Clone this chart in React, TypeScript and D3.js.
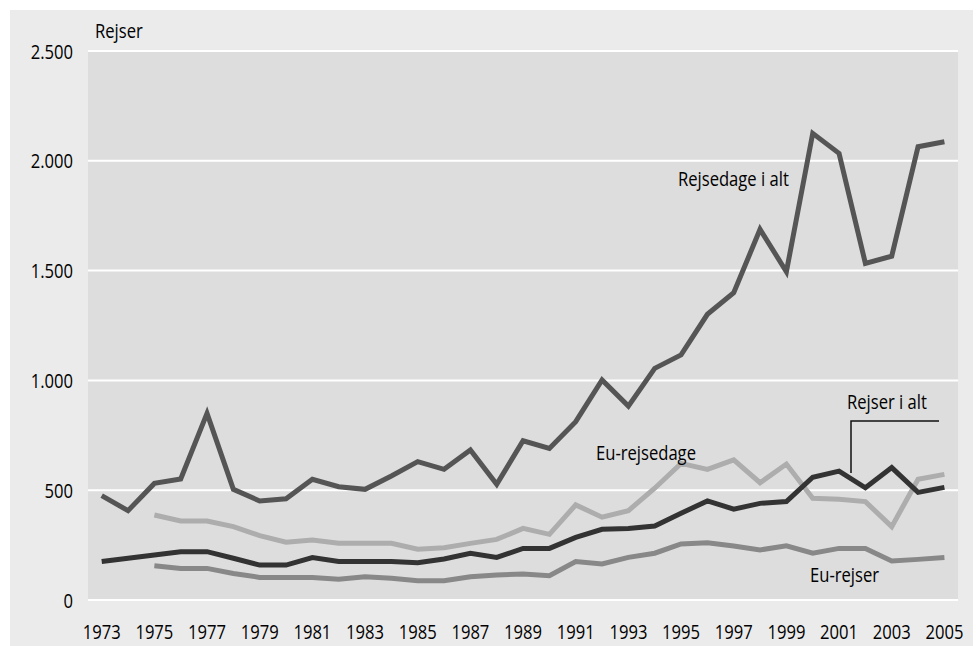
import React, { useEffect, useRef } from "react";
import * as d3 from "d3";

const years: number[] = d3.range(1973, 2006);
const tickYears: number[] = d3.range(1973, 2006, 2);
const yTicks: number[] = [0, 500, 1000, 1500, 2000, 2500];

// 1973..2005
const rejsedageIAlt: number[] = [
  475, 407, 531, 551, 850, 504, 451, 461, 550, 516, 504, 565, 630, 595, 683, 527,
  725, 690, 812, 1002, 883, 1055, 1116, 1301, 1399, 1688, 1495, 2125, 2034, 1533, 1566, 2064, 2087,
];
const rejserIAlt: number[] = [
  175, 190, 205, 220, 220, 190, 159, 159, 193, 175, 175, 175, 170, 187, 213, 194,
  235, 235, 285, 322, 326, 337, 395, 451, 414, 440, 448, 559, 587, 511, 603, 490, 513,
];
// 1975..2005 (null before)
const euRejsedage: (number | null)[] = [
  null, null, 387, 360, 360, 334, 293, 263, 273, 258, 258, 258, 231, 238, 258, 276,
  326, 299, 433, 377, 407, 509, 622, 595, 638, 534, 619, 463, 459, 448, 334, 550, 572,
];
const euRejser: (number | null)[] = [
  null, null, 156, 144, 144, 121, 103, 103, 102, 94, 106, 99, 88, 88, 106, 114,
  118, 111, 175, 164, 194, 213, 255, 261, 246, 228, 247, 213, 235, 235, 178, 185, 194,
];

const FONT = "'Open Sans', 'Noto Sans', sans-serif";
const SX = 0.81;
const FS = 20.5;

export default function App() {
  const ref = useRef<SVGSVGElement | null>(null);

  useEffect(() => {
    const svg = d3.select(ref.current);
    svg.selectAll("*").remove();

    const W = 976, H = 646;
    const plot = { left: 88, right: 958, top: 51, bottom: 600 };

    svg.append("rect").attr("x", 0).attr("y", 0).attr("width", W).attr("height", H).attr("fill", "#ffffff");
    svg.append("rect").attr("x", 10).attr("y", 10).attr("width", 963).attr("height", H - 10).attr("fill", "#ebebeb");
    svg.append("rect")
      .attr("x", plot.left).attr("y", plot.top)
      .attr("width", plot.right - plot.left).attr("height", plot.bottom - plot.top)
      .attr("fill", "#dddddd");

    const x = d3.scaleLinear().domain([1973, 2005]).range([101.7, 944.4]);
    const y = d3.scaleLinear().domain([0, 2500]).range([plot.bottom, plot.top]);

    const label = (
      g: d3.Selection<any, any, any, any>,
      tx: number,
      ty: number,
      text: string,
      anchor: string = "start"
    ) => {
      g.append("g")
        .attr("transform", `translate(${tx},${ty}) scale(${SX},1)`)
        .append("text")
        .attr("x", 0).attr("y", 0)
        .attr("text-anchor", anchor)
        .attr("font-family", FONT).attr("font-size", FS).attr("fill", "#000")
        .text(text);
    };

    // gridlines
    svg.append("g").selectAll("line").data(yTicks).join("line")
      .attr("x1", plot.left).attr("x2", plot.right)
      .attr("y1", (d) => y(d)).attr("y2", (d) => y(d))
      .attr("stroke", "#ffffff").attr("stroke-width", 2);

    const fmt = (d: number) => d3.format(",")(d).replace(/,/g, ".");
    const gy = svg.append("g");
    yTicks.forEach((d) => label(gy, 73, y(d) + 7.5, fmt(d), "end"));

    const gx = svg.append("g");
    tickYears.forEach((d) => label(gx, x(d), 639, String(d), "middle"));

    label(svg, 95, 38, "Rejser");

    const line = d3.line<number | null>()
      .defined((d) => d !== null)
      .x((_, i) => x(years[i]))
      .y((d) => y(d as number));

    const series: { data: (number | null)[]; color: string }[] = [
      { data: euRejser, color: "#888888" },
      { data: euRejsedage, color: "#adadad" },
      { data: rejserIAlt, color: "#333333" },
      { data: rejsedageIAlt, color: "#555555" },
    ];
    series.forEach((s) => {
      svg.append("path")
        .attr("d", line(s.data) as string)
        .attr("fill", "none")
        .attr("stroke", s.color)
        .attr("stroke-width", 5)
        .attr("stroke-linejoin", "miter");
    });

    const ann = [
      { text: "Rejsedage i alt", x: 678, y: 186 },
      { text: "Eu-rejsedage", x: 596, y: 460 },
      { text: "Rejser i alt", x: 847, y: 409 },
      { text: "Eu-rejser", x: 810, y: 582 },
    ];
    const ga = svg.append("g");
    ann.forEach((a) => label(ga, a.x, a.y, a.text));

    svg.append("path")
      .attr("d", "M939,421H851V473")
      .attr("fill", "none").attr("stroke", "#111").attr("stroke-width", 1.5);
  }, []);

  return (
    <svg
      ref={ref}
      width={976}
      height={646}
      style={{ position: "absolute", left: 0, top: 0, display: "block" }}
    />
  );
}
